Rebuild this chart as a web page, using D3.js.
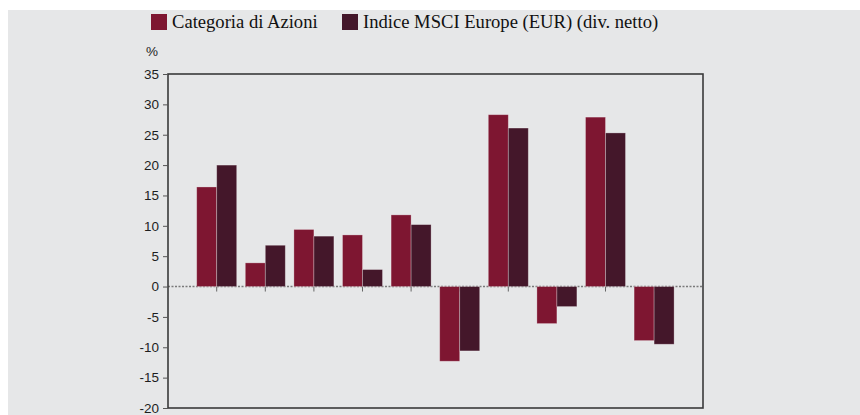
<!DOCTYPE html>
<html lang="it">
<head>
<meta charset="utf-8">
<title>Categoria di Azioni vs MSCI Europe</title>
<script src="https://cdn.jsdelivr.net/npm/d3@7"></script>
<style>
  html, body { margin: 0; padding: 0; background: #fff; }
  .legend text { font-family: "Liberation Serif", "Times New Roman", serif; font-size: 18.6px; fill: #111; }
  .yaxis text { font-family: "Liberation Sans", Arial, sans-serif; font-size: 13.5px; fill: #1e1e1e; }
</style>
</head>
<body>
<script>
// periods (no labels shown on the chart)
var periods = ["1", "2", "3", "4", "5", "6", "7", "8", "9", "10"];
var seriesNames = ["Categoria di Azioni", "Indice MSCI Europe (EUR) (div. netto)"];
var categoria = [16.4, 3.9, 9.4, 8.5, 11.8, -12.3, 28.3, -6.1, 27.9, -8.9];
var indice = [20.0, 6.8, 8.3, 2.8, 10.2, -10.6, 26.1, -3.3, 25.3, -9.5];
var yTicks = [35, 30, 25, 20, 15, 10, 5, 0, -5, -10, -15, -20];
var colors = ["#7e1631", "#44172a"];

var W = 860, H = 415;
var svg = d3.select("body").append("svg").attr("width", W).attr("height", H);

// grey panel
svg.append("rect").attr("x", 8).attr("y", 10).attr("width", W - 8).attr("height", H - 10)
  .attr("fill", "#e6e7e8");

var plotL = 168, plotR = 703, plotT = 74, plotB = 408;

var y = d3.scaleLinear().domain([-20, 35]).range([plotB, plotT]);
var x = d3.scaleBand().domain(periods).range([192.4, 678.4]).paddingInner(0).paddingOuter(0);
var barW = 20;

// zero line, dotted
svg.append("line").attr("x1", plotL).attr("x2", plotR)
  .attr("y1", y(0)).attr("y2", y(0))
  .attr("stroke", "#7a7a7a").attr("stroke-width", 1.5).attr("stroke-dasharray", "2 1.5");

// small ticks under zero line at group centres
svg.selectAll("line.gtick").data(periods).enter().append("line")
  .attr("class", "gtick")
  .attr("x1", function(d) { return x(d) + x.bandwidth() / 2; })
  .attr("x2", function(d) { return x(d) + x.bandwidth() / 2; })
  .attr("y1", y(0)).attr("y2", y(0) + 5)
  .attr("stroke", "#666").attr("stroke-width", 1);

var data = [categoria, indice];
data.forEach(function(vals, s) {
  svg.append("g").selectAll("rect").data(vals).enter().append("rect")
    .attr("x", function(d, i) { return x(periods[i]) + x.bandwidth() / 2 - barW + s * barW; })
    .attr("width", barW)
    .attr("y", function(d) { return d >= 0 ? y(d) : y(0); })
    .attr("height", function(d) { return Math.abs(y(d) - y(0)); })
    .attr("fill", colors[s])
    .attr("stroke", "rgba(255,255,255,0.35)").attr("stroke-width", 0.8);
});

// frame
svg.append("rect").attr("x", plotL).attr("y", plotT)
  .attr("width", plotR - plotL).attr("height", plotB - plotT)
  .attr("fill", "none").attr("stroke", "#3a3a3a").attr("stroke-width", 1.6);

// y axis, plain hyphen for negatives
var yAxis = svg.append("g").attr("class", "yaxis")
  .attr("transform", "translate(" + plotL + ",0)")
  .call(d3.axisLeft(y).tickValues(yTicks).tickSize(5).tickPadding(4)
    .tickFormat(function(d) { return String(d); }));
yAxis.select(".domain").remove();
yAxis.selectAll(".tick line").attr("stroke", "#555");

svg.append("text").attr("x", 152).attr("y", 56).attr("text-anchor", "middle")
  .attr("font-family", "Liberation Sans, Arial, sans-serif").attr("font-size", 13.5)
  .attr("fill", "#1e1e1e").text("%");

// legend
var legend = svg.append("g").attr("class", "legend");
var legX = [151, 342];
seriesNames.forEach(function(n, i) {
  legend.append("rect").attr("x", legX[i]).attr("y", 14).attr("width", 16).attr("height", 16)
    .attr("fill", colors[i]);
  legend.append("text").attr("x", legX[i] + 21).attr("y", 28).text(n);
});
</script>
</body>
</html>
